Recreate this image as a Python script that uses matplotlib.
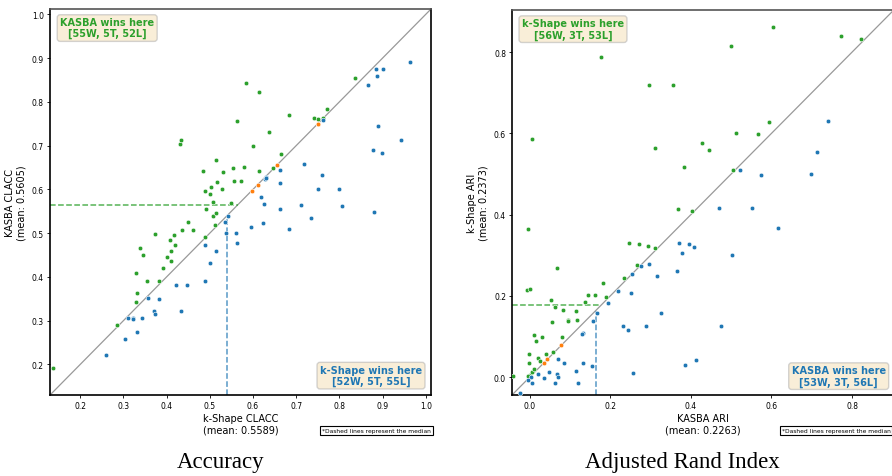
import matplotlib
matplotlib.use("Agg")
import matplotlib.pyplot as plt
import numpy as np

# ---- Accuracy (CLACC) panel: x = k-Shape, y = KASBA ----
acc_kasba_x = [0.138, 0.285, 0.328, 0.331, 0.330, 0.355, 0.382, 0.338, 0.346, 0.373,
               0.392, 0.400, 0.409, 0.409, 0.407, 0.419, 0.416, 0.436, 0.449, 0.461,
               0.488, 0.492, 0.508, 0.514, 0.513, 0.507, 0.488, 0.500, 0.503, 0.517,
               0.527, 0.548, 0.556, 0.572, 0.485, 0.531, 0.554, 0.579, 0.614, 0.647,
               0.515, 0.665, 0.600, 0.637, 0.431, 0.433, 0.562, 0.683, 0.741, 0.751,
               0.762, 0.771, 0.583, 0.613, 0.835]
acc_kasba_y = [0.191, 0.291, 0.342, 0.362, 0.409, 0.391, 0.390, 0.467, 0.451, 0.498,
               0.420, 0.445, 0.436, 0.459, 0.484, 0.472, 0.496, 0.506, 0.526, 0.506,
               0.490, 0.554, 0.538, 0.545, 0.519, 0.570, 0.597, 0.589, 0.605, 0.616,
               0.600, 0.568, 0.619, 0.619, 0.642, 0.640, 0.649, 0.651, 0.641, 0.648,
               0.668, 0.680, 0.699, 0.731, 0.704, 0.713, 0.755, 0.770, 0.763, 0.761,
               0.763, 0.783, 0.843, 0.823, 0.854]
acc_kshape_x = [0.963, 0.885, 0.900, 0.888, 0.867, 0.762, 0.890, 0.943, 0.878, 0.899,
                0.717, 0.663, 0.760, 0.631, 0.628, 0.663, 0.750, 0.800, 0.619, 0.626,
                0.806, 0.711, 0.662, 0.881, 0.734, 0.542, 0.534, 0.624, 0.595, 0.683,
                0.560, 0.537, 0.562, 0.514, 0.500, 0.488, 0.488, 0.448, 0.422, 0.433,
                0.382, 0.357, 0.371, 0.373, 0.342, 0.321, 0.310, 0.331, 0.303, 0.260,
                0.322, 0.630]
acc_kshape_y = [0.892, 0.876, 0.876, 0.858, 0.838, 0.758, 0.745, 0.712, 0.689, 0.683,
                0.658, 0.644, 0.632, 0.629, 0.623, 0.614, 0.600, 0.600, 0.583, 0.567,
                0.561, 0.564, 0.554, 0.548, 0.535, 0.538, 0.526, 0.523, 0.514, 0.509,
                0.500, 0.500, 0.478, 0.460, 0.432, 0.472, 0.390, 0.382, 0.382, 0.321,
                0.350, 0.352, 0.323, 0.315, 0.305, 0.307, 0.307, 0.275, 0.258, 0.222,
                0.304, 0.625]
acc_tie_x = [0.750, 0.656, 0.612, 0.598, 0.751]
acc_tie_y = [0.749, 0.655, 0.611, 0.596, 0.750]
acc_median_x = 0.540
acc_median_y = 0.565

# ---- ARI panel: x = KASBA, y = k-Shape ----
ari_kshape_x = [0.603, 0.499, 0.773, 0.823, 0.178, 0.297, 0.356, 0.593, 0.513, 0.566,
                0.005, 0.312, 0.427, 0.445, 0.382, 0.504, 0.367, 0.404, -0.004, 0.067,
                -0.006, 0.001, 0.247, 0.271, 0.294, 0.312, 0.267, 0.234, 0.181, 0.190,
                0.144, 0.161, 0.138, 0.053, 0.064, 0.083, 0.115, 0.094, 0.118, 0.055,
                0.010, 0.030, 0.015, 0.080, -0.001, 0.057, 0.040, 0.020, 0.025, -0.001,
                -0.040, 0.095, 0.002, 0.007, -0.003, 0.012]
ari_kshape_y = [0.861, 0.815, 0.840, 0.832, 0.789, 0.719, 0.718, 0.628, 0.602, 0.598,
                0.586, 0.565, 0.577, 0.559, 0.518, 0.511, 0.414, 0.410, 0.365, 0.269,
                0.214, 0.216, 0.331, 0.327, 0.322, 0.317, 0.275, 0.243, 0.231, 0.198,
                0.203, 0.203, 0.184, 0.191, 0.173, 0.165, 0.164, 0.142, 0.142, 0.137,
                0.104, 0.098, 0.090, 0.100, 0.058, 0.061, 0.057, 0.048, 0.039, 0.035,
                0.003, 0.138, 0.006, 0.012, 0.002, 0.020]
ari_kasba_x = [0.740, 0.714, 0.699, 0.522, 0.573, 0.469, 0.551, 0.616, 0.219, 0.251,
               0.195, 0.166, 0.156, 0.253, 0.277, 0.295, 0.315, 0.326, 0.232, 0.244,
               0.289, 0.366, 0.371, 0.377, 0.395, 0.408, 0.385, 0.257, 0.133, 0.130,
               0.071, 0.086, 0.133, 0.154, 0.115, 0.020, 0.048, 0.068, 0.071, 0.004,
               -0.005, 0.005, 0.036, 0.062, 0.120, -0.024, 0.501, 0.475, 0.412]
ari_kasba_y = [0.631, 0.555, 0.500, 0.511, 0.498, 0.416, 0.416, 0.368, 0.211, 0.208,
               0.182, 0.158, 0.139, 0.255, 0.274, 0.279, 0.248, 0.158, 0.125, 0.115,
               0.125, 0.261, 0.331, 0.306, 0.328, 0.321, 0.029, 0.010, 0.110, 0.107,
               0.044, 0.034, 0.035, 0.027, 0.016, 0.009, 0.012, 0.007, 0.001, 0.000,
               -0.006, -0.013, -0.002, -0.014, -0.013, -0.039, 0.301, 0.127, 0.043]
ari_tie_x = [0.079, 0.043, 0.035]
ari_tie_y = [0.080, 0.044, 0.036]
ari_median_x = 0.164
ari_median_y = 0.177

GREEN = "#2ca02c"
BLUE = "#1f77b4"
ORANGE = "#ff7f0e"


def drawPanel(ax, lims, ticks, above_x, above_y, below_x, below_y, tie_x, tie_y,
              med_x, med_y, above_color, below_color, top_text, bottom_text,
              xlabel, ylabel, spine_right=True):
	ax.set_xlim(lims)
	ax.set_ylim(lims)
	ax.plot(lims, lims, color="#999999", lw=0.9, zorder=1)
	# median lines stop at the diagonal
	ax.plot([med_x, med_x], [lims[0], med_x], ls="--", color=below_color, alpha=0.75, lw=1.1, zorder=2)
	ax.plot([lims[0], med_y], [med_y, med_y], ls="--", color=above_color, alpha=0.8, lw=1.1, zorder=2)
	ax.scatter(above_x, above_y, s=11, c=above_color, edgecolors="white", linewidths=0.4, zorder=3)
	ax.scatter(below_x, below_y, s=11, c=below_color, edgecolors="white", linewidths=0.4, zorder=3)
	ax.scatter(tie_x, tie_y, s=11, c=ORANGE, edgecolors="white", linewidths=0.4, zorder=3)
	ax.set_xticks(ticks)
	ax.set_yticks(ticks)
	ax.tick_params(labelsize=5.5, length=2.5, width=0.6, pad=2)
	ax.set_xlabel(xlabel, fontsize=7, labelpad=2)
	ax.set_ylabel(ylabel, fontsize=7, labelpad=4)
	box = dict(boxstyle="round,pad=0.3", facecolor="wheat", edgecolor="#aaaaaa", alpha=0.5)
	ax.text(top_text[0], top_text[1], top_text[2], transform=ax.transAxes, ha="center", va="center",
	        fontsize=7, fontweight="bold", color=above_color, bbox=box, linespacing=1.1)
	ax.text(bottom_text[0], bottom_text[1], bottom_text[2], transform=ax.transAxes, ha="center", va="center",
	        fontsize=7, fontweight="bold", color=below_color, bbox=box, linespacing=1.1)
	for side in ["left", "bottom", "right"]:
		ax.spines[side].set_linewidth(1.2)
		ax.spines[side].set_color("black")
	ax.spines["top"].set_linewidth(1.2)
	ax.spines["top"].set_color("#555555")
	if not spine_right:
		ax.spines["right"].set_visible(False)


def main():
	fig = plt.figure(figsize=(8.92, 4.77), dpi=100)
	ax1 = fig.add_axes([0.0561, 0.1698, 0.4271, 0.8092])
	ax2 = fig.add_axes([0.5743, 0.1704, 0.428, 0.807])

	drawPanel(ax1, [0.13, 1.012], np.arange(0.2, 1.01, 0.1),
	          acc_kasba_x, acc_kasba_y, acc_kshape_x, acc_kshape_y, acc_tie_x, acc_tie_y,
	          acc_median_x, acc_median_y, GREEN, BLUE,
	          (0.15, 0.951, "KASBA wins here\n[55W, 5T, 52L]"),
	          (0.8425, 0.0505, "k-Shape wins here\n[52W, 5T, 55L]"),
	          "k-Shape CLACC\n(mean: 0.5589)", "KASBA CLACC\n(mean: 0.5605)")
	drawPanel(ax2, [-0.043, 0.904], np.arange(0.0, 0.81, 0.2),
	          ari_kshape_x, ari_kshape_y, ari_kasba_x, ari_kasba_y, ari_tie_x, ari_tie_y,
	          ari_median_x, ari_median_y, GREEN, BLUE,
	          (0.159, 0.95, "k-Shape wins here\n[56W, 3T, 53L]"),
	          (0.855, 0.0486, "KASBA wins here\n[53W, 3T, 56L]"),
	          "KASBA ARI\n(mean: 0.2263)", "k-Shape ARI\n(mean: 0.2373)", spine_right=False)

	note = dict(boxstyle="square,pad=0.3", facecolor="white", edgecolor="black", lw=0.8)
	fig.text(0.4833, 0.0954, "*Dashed lines represent the median", fontsize=4.3, ha="right", va="center", bbox=note)
	fig.text(0.9985, 0.0954, "*Dashed lines represent the median", fontsize=4.3, ha="right", va="center", bbox=note)

	fig.text(220.8 / 892, 1 - 463 / 477, "Accuracy", fontsize=16.5, family="Liberation Serif", ha="center", va="center")
	fig.text(682.7 / 892, 1 - 463 / 477, "Adjusted Rand Index", fontsize=16.5, family="Liberation Serif", ha="center", va="center")

	fig.savefig("out.png", dpi=100)


if __name__ == '__main__':
	main()
